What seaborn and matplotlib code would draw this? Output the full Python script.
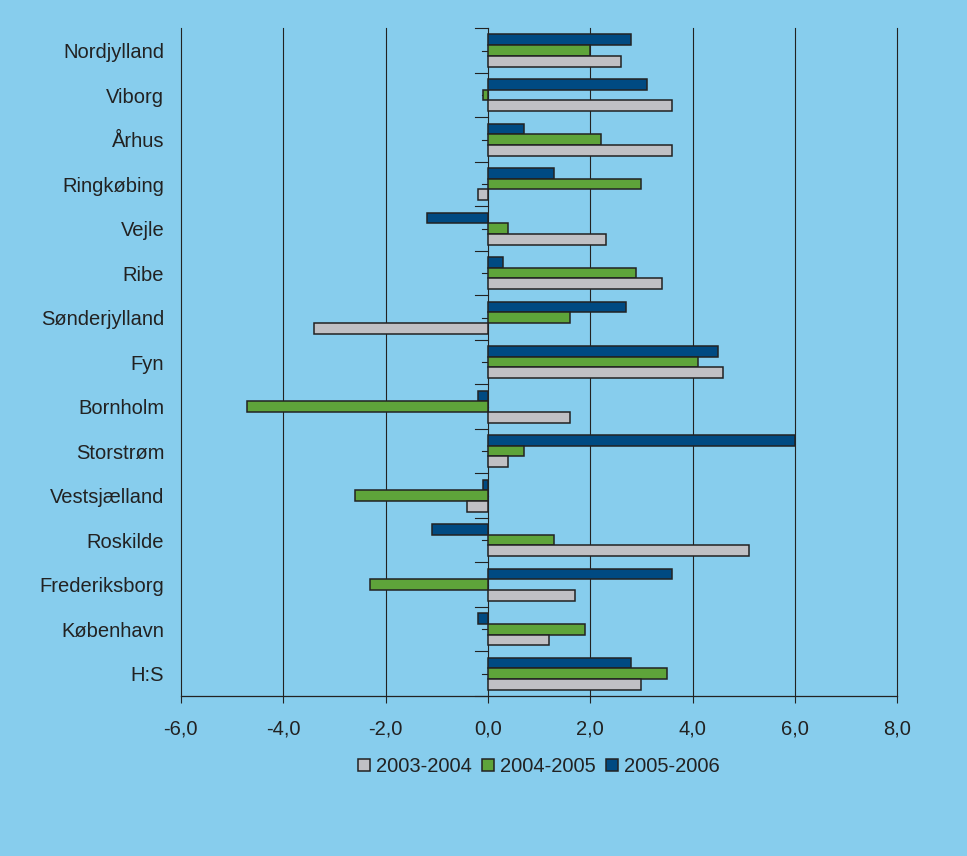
import pandas as pd
import matplotlib
matplotlib.use("Agg")
import matplotlib.pyplot as plt
import seaborn as sns

# data
counties = ["Nordjylland", "Viborg", "Århus", "Ringkøbing", "Vejle", "Ribe",
            "Sønderjylland", "Fyn", "Bornholm", "Storstrøm", "Vestsjælland",
            "Roskilde", "Frederiksborg", "København", "H:S"]
v_2003_2004 = [2.6, 3.6, 3.6, -0.2, 2.3, 3.4, -3.4, 4.6, 1.6, 0.4, -0.4, 5.1, 1.7, 1.2, 3.0]
v_2004_2005 = [2.0, -0.1, 2.2, 3.0, 0.4, 2.9, 1.6, 4.1, -4.7, 0.7, -2.6, 1.3, -2.3, 1.9, 3.5]
v_2005_2006 = [2.8, 3.1, 0.7, 1.3, -1.2, 0.3, 2.7, 4.5, -0.2, 6.0, -0.1, -1.1, 3.6, -0.2, 2.8]
periods = ["2003-2004", "2004-2005", "2005-2006"]
colors = {"2003-2004": "#C0C0C4", "2004-2005": "#5EA43A", "2005-2006": "#004A82"}
x_ticks = [-6, -4, -2, 0, 2, 4, 6, 8]

df = pd.DataFrame({"county": counties * 3,
                   "value": v_2003_2004 + v_2004_2005 + v_2005_2006,
                   "period": [p for p in periods for _ in counties]})

bg = "#87CDED"
ink = "#222222"
plt.rcParams["font.family"] = ["Liberation Sans", "DejaVu Sans"]

fig = plt.figure(figsize=(9.67, 8.56), dpi=100, facecolor=bg)
ax = fig.add_axes([0.187, 0.187, 0.741, 0.780])
ax.set_facecolor(bg)

# blue on top of each group, grey at the bottom
sns.barplot(data=df, y="county", x="value", hue="period", order=counties,
            hue_order=periods[::-1], palette=colors, orient="h", width=0.72,
            edgecolor=ink, linewidth=1.1, saturation=1, ax=ax, legend=True, zorder=3)

ax.set_xlim(-6, 8)
ax.set_ylim(len(counties) - 0.5, -0.5)

# vertical gridlines, also at both edges
for t in x_ticks:
    ax.axvline(t, color=ink, linewidth=0.8, clip_on=False, zorder=1)

# small ticks on the zero line, at group centres and between groups
for i in range(len(counties)):
    ax.plot([-0.12, 0], [i, i], color=ink, linewidth=0.8, zorder=2)
for i in range(len(counties) + 1):
    ax.plot([-0.25, 0], [i - 0.5, i - 0.5], color=ink, linewidth=0.8, zorder=2,
            clip_on=False)

ax.set_xticks(x_ticks)
ax.set_xticklabels([f"{t:.1f}".replace(".", ",") for t in x_ticks], fontsize=14.5, color=ink)
ax.tick_params(axis="x", direction="out", length=5, width=0.8, pad=12, color=ink)
ax.tick_params(axis="y", length=0, pad=12, labelsize=14.5, labelcolor=ink)
ax.set_xlabel("")
ax.set_ylabel("")
for side in ["top", "right", "left"]:
    ax.spines[side].set_visible(False)
ax.spines["bottom"].set_color(ink)
ax.spines["bottom"].set_linewidth(0.9)

# legend in chronological order
handles, labels = ax.get_legend_handles_labels()
order = [labels.index(p) for p in periods]
ax.legend([handles[i] for i in order], periods, loc="center",
          bbox_to_anchor=(0.5, -0.106), ncol=3, frameon=False, fontsize=14.5,
          handlelength=0.6, handleheight=0.6, handletextpad=0.3, columnspacing=0.5,
          labelcolor=ink)

fig.savefig("out.png", dpi=100, facecolor=bg)
